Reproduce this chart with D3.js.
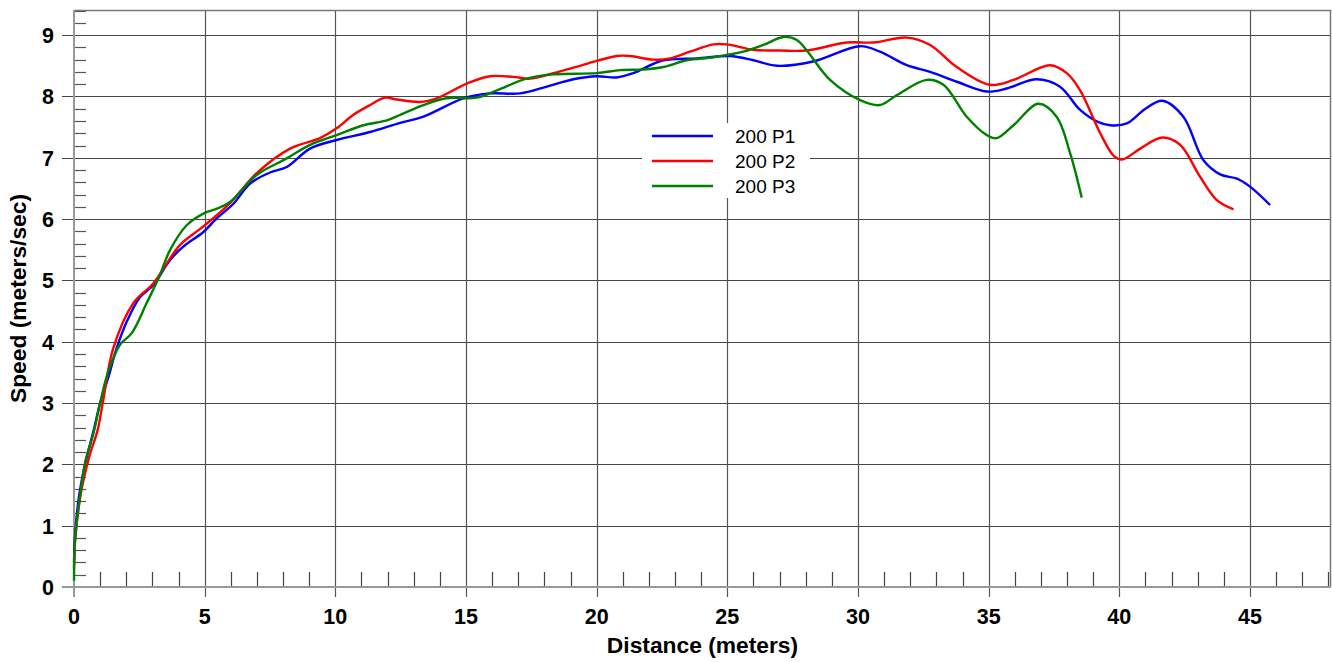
<!DOCTYPE html>
<html>
<head>
<meta charset="utf-8">
<script src="https://cdn.jsdelivr.net/npm/d3@7"></script>
<style>
  html, body { margin: 0; padding: 0; background: #fff; }
  svg { display: block; font-family: Arial, "Liberation Sans", sans-serif; }
</style>
</head>
<body>
<svg id="chart" width="1332" height="662"></svg>
<script>
// ---- data ----
const seriesNames = ["200 P1", "200 P2", "200 P3"];
const seriesColors = ["#0000ff", "#ff0000", "#008000"];

const p1Dist = [0, 0.05, 0.2, 0.45, 0.75, 1.0, 1.3, 1.63, 2.02, 2.53, 3.03, 3.67, 4.18, 4.95, 5.46, 6.1, 6.74, 7.5, 8.14, 9.03, 10.05, 11.33, 12.48, 13.37, 14.9, 15.92, 17.07, 18.09, 19.11, 20.0, 20.77, 21.4, 22.55, 23.83, 25.1, 26.0, 26.9, 28.28, 30.08, 30.84, 31.87, 32.76, 33.78, 34.93, 35.69, 36.84, 37.73, 38.5, 39.2, 39.65, 40.29, 41.0, 41.65, 42.45, 43.22, 43.86, 44.5, 45.0, 45.77];
const p1Speed = [0.4, 0.9, 1.5, 2.05, 2.55, 3.0, 3.4, 3.89, 4.33, 4.73, 4.92, 5.33, 5.55, 5.79, 6.01, 6.25, 6.58, 6.76, 6.85, 7.15, 7.29, 7.42, 7.57, 7.67, 7.97, 8.05, 8.05, 8.16, 8.28, 8.33, 8.31, 8.38, 8.59, 8.62, 8.66, 8.59, 8.5, 8.57, 8.82, 8.73, 8.51, 8.40, 8.24, 8.08, 8.13, 8.28, 8.16, 7.78, 7.58, 7.53, 7.56, 7.8, 7.93, 7.67, 6.96, 6.73, 6.66, 6.53, 6.23];

const p2Dist = [0, 0.05, 0.25, 0.6, 0.9, 1.1, 1.5, 2.27, 3.03, 4.06, 4.95, 5.97, 6.99, 8.27, 9.41, 10.05, 10.69, 11.33, 11.9, 12.35, 13.24, 13.88, 15.03, 15.92, 16.81, 17.45, 18.34, 19.11, 20.0, 20.77, 21.28, 22.17, 22.81, 23.57, 24.47, 24.98, 26.0, 27.02, 28.04, 29.57, 30.58, 31.87, 32.76, 33.78, 35.05, 35.95, 37.35, 37.99, 38.5, 39.27, 39.77, 40.1, 40.8, 41.65, 42.33, 43.09, 43.73, 44.37];
const p2Speed = [0.3, 0.8, 1.5, 2.15, 2.55, 3.0, 3.89, 4.63, 4.95, 5.58, 5.88, 6.26, 6.75, 7.15, 7.32, 7.48, 7.70, 7.86, 7.98, 7.95, 7.91, 7.97, 8.21, 8.33, 8.32, 8.29, 8.38, 8.47, 8.58, 8.66, 8.66, 8.60, 8.62, 8.73, 8.85, 8.85, 8.76, 8.75, 8.75, 8.88, 8.88, 8.96, 8.84, 8.48, 8.19, 8.27, 8.51, 8.38, 8.10, 7.40, 7.04, 6.97, 7.15, 7.33, 7.21, 6.69, 6.31, 6.16];

const p3Dist = [0, 0.04, 0.23, 0.42, 0.74, 1.0, 1.3, 1.76, 2.21, 2.78, 3.23, 3.67, 4.31, 4.95, 5.46, 5.97, 6.99, 8.14, 9.03, 10.05, 11.07, 11.97, 12.48, 13.37, 14.26, 15.41, 16.18, 17.32, 18.34, 20.0, 20.9, 21.79, 22.55, 23.45, 24.47, 25.61, 26.38, 27.15, 27.66, 28.93, 30.08, 30.84, 31.48, 32.63, 33.27, 34.16, 34.93, 35.31, 35.95, 36.9, 37.6, 38.12, 38.56];
const p3Speed = [0.1, 0.77, 1.47, 2.02, 2.5, 3.0, 3.5, 3.95, 4.14, 4.63, 5.03, 5.49, 5.90, 6.09, 6.17, 6.28, 6.72, 6.99, 7.21, 7.37, 7.53, 7.61, 7.70, 7.86, 7.97, 7.98, 8.10, 8.29, 8.36, 8.38, 8.43, 8.44, 8.48, 8.59, 8.64, 8.73, 8.84, 8.97, 8.92, 8.27, 7.94, 7.86, 8.02, 8.27, 8.19, 7.67, 7.37, 7.32, 7.53, 7.88, 7.67, 7.07, 6.35];

const xTickValues = [0, 5, 10, 15, 20, 25, 30, 35, 40, 45];
const yTickValues = [0, 1, 2, 3, 4, 5, 6, 7, 8, 9];
const xTitle = "Distance (meters)";
const yTitle = "Speed (meters/sec)";

// ---- layout ----
const svg = d3.select("#chart");
const L = 74, R = 1331, T = 10, B = 587;
const x = d3.scaleLinear().domain([0, 48.1]).range([L, R]);
const y = d3.scaleLinear().domain([0, 9.41]).range([B, T]);

const series = [
  { name: seriesNames[0], color: seriesColors[0], pts: p1Dist.map((d, i) => [d, p1Speed[i]]) },
  { name: seriesNames[1], color: seriesColors[1], pts: p2Dist.map((d, i) => [d, p2Speed[i]]) },
  { name: seriesNames[2], color: seriesColors[2], pts: p3Dist.map((d, i) => [d, p3Speed[i]]) }
];

const g = svg.append("g");

// horizontal grid
g.append("g").selectAll("line").data(yTickValues.filter(v => v > 0)).join("line")
  .attr("x1", L - 12).attr("x2", R)
  .attr("y1", d => Math.round(y(d)) + 0.5).attr("y2", d => Math.round(y(d)) + 0.5)
  .attr("stroke", "#444").attr("stroke-width", 1.2);

// vertical grid
g.append("g").selectAll("line").data(xTickValues.filter(v => v > 0)).join("line")
  .attr("y1", T).attr("y2", B + 10)
  .attr("x1", d => Math.round(x(d)) + 0.5).attr("x2", d => Math.round(x(d)) + 0.5)
  .attr("stroke", "#555").attr("stroke-width", 1.2);

// minor ticks y
const yMinor = d3.range(0.2, 9.41, 0.2).filter(v => Math.abs(v - Math.round(v)) > 0.01);
g.append("g").selectAll("line").data(yMinor).join("line")
  .attr("x1", L).attr("x2", L + 12)
  .attr("y1", d => Math.round(y(d)) + 0.5).attr("y2", d => Math.round(y(d)) + 0.5)
  .attr("stroke", "#555").attr("stroke-width", 1.2);

// minor ticks x
const xMinor = d3.range(1, 48.1, 1).filter(v => v % 5 !== 0);
g.append("g").selectAll("line").data(xMinor).join("line")
  .attr("y1", B - 15).attr("y2", B)
  .attr("x1", d => Math.round(x(d)) + 0.5).attr("x2", d => Math.round(x(d)) + 0.5)
  .attr("stroke", "#444").attr("stroke-width", 1.2);

// frame
g.append("line").attr("x1", L).attr("x2", R).attr("y1", T + 0.5).attr("y2", T + 0.5).attr("stroke", "#777").attr("stroke-width", 1.5);
g.append("line").attr("x1", R - 0.5).attr("x2", R - 0.5).attr("y1", T).attr("y2", B).attr("stroke", "#777").attr("stroke-width", 1.5);
g.append("line").attr("x1", L - 12).attr("x2", R).attr("y1", B).attr("y2", B).attr("stroke", "#999").attr("stroke-width", 2);
g.append("line").attr("x1", L).attr("x2", L).attr("y1", T).attr("y2", B + 10).attr("stroke", "#999").attr("stroke-width", 2);

// tick labels
g.append("g").selectAll("text").data(yTickValues).join("text")
  .attr("x", 54).attr("y", d => y(d) + 8)
  .attr("text-anchor", "end").attr("font-size", 21.5).attr("font-weight", "bold")
  .attr("fill", "#000").text(d => d);
g.append("g").selectAll("text").data(xTickValues).join("text")
  .attr("x", d => x(d)).attr("y", 624)
  .attr("text-anchor", "middle").attr("font-size", 21.5).attr("font-weight", "bold")
  .attr("fill", "#000").text(d => d);

// axis titles
svg.append("text").attr("x", (L + R) / 2).attr("y", 653)
  .attr("text-anchor", "middle").attr("font-size", 22.8).attr("font-weight", "bold").text(xTitle);
svg.append("text").attr("transform", `translate(26, ${(T + B) / 2}) rotate(-90)`)
  .attr("text-anchor", "middle").attr("font-size", 22.8).attr("font-weight", "bold").text(yTitle);

// lines
const line = d3.line().x(d => x(d[0])).y(d => y(d[1])).curve(d3.curveCatmullRom.alpha(0.5));
g.append("g").selectAll("path").data(series).join("path")
  .attr("d", d => line(d.pts))
  .attr("fill", "none").attr("stroke", d => d.color).attr("stroke-width", 2.4)
  .attr("stroke-linejoin", "round");

// legend
const lg = svg.append("g");
lg.append("rect").attr("x", 642).attr("y", 123).attr("width", 168).attr("height", 75).attr("fill", "#fff");
const rows = lg.selectAll("g").data(series).join("g")
  .attr("transform", (d, i) => `translate(0, ${136 + i * 25})`);
rows.append("line").attr("x1", 652).attr("x2", 713).attr("y1", 0).attr("y2", 0)
  .attr("stroke", d => d.color).attr("stroke-width", 2.4);
rows.append("text").attr("x", 735).attr("y", 7).attr("font-size", 19)
  .attr("fill", "#000").text(d => d.name);
</script>
</body>
</html>
